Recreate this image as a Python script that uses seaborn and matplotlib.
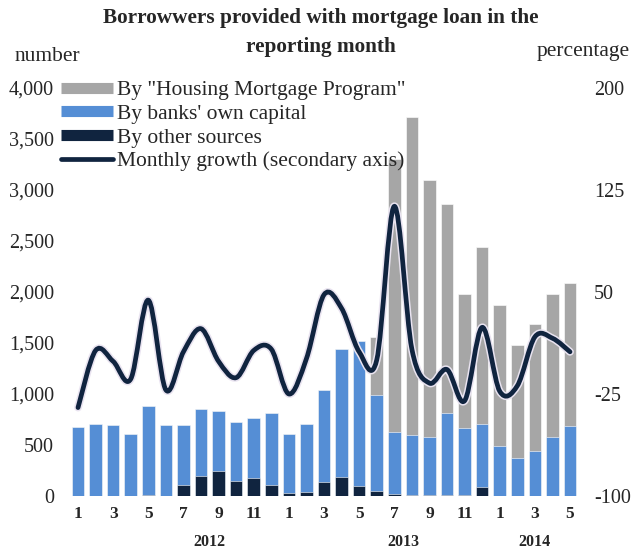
import numpy as np
import pandas as pd
import matplotlib
matplotlib.use("Agg")
import matplotlib.pyplot as plt
import seaborn as sns
from matplotlib.path import Path
from matplotlib.patches import PathPatch
from matplotlib.lines import Line2D
import matplotlib.patheffects as pe

# ---- data ---------------------------------------------------------------
years = [2012] * 12 + [2013] * 12 + [2014] * 5
month_num = list(range(1, 13)) + list(range(1, 13)) + list(range(1, 6))

# borrowers financed by other sources
other_sources = [5, 3, 3, 2, 10, 2, 105, 195, 245, 145, 175, 105,
                 25, 35, 140, 190, 95, 45, 20, 10, 8, 8, 8, 85,
                 0, 0, 0, 0, 0]
# borrowers financed by banks' own capital
banks_capital = [675, 707, 697, 608, 870, 698, 590, 655, 585, 580, 585, 710,
                 585, 675, 895, 1250, 1425, 950, 610, 590, 567, 802, 662, 625,
                 495, 375, 445, 575, 690]
# borrowers financed by the Housing Mortgage Program
housing_program = [0, 0, 0, 0, 0, 0, 0, 0, 0, 0, 0, 0,
                   0, 0, 0, 0, 0, 560, 2670, 3120, 2525, 2050, 1310, 1730,
                   1375, 1105, 1240, 1405, 1400]
# monthly growth of total borrowers, %
monthly_growth = [-35, 7, -1, -14, 44, -22, 6, 23, -1, -13, 7, 8,
                  -25, 1, 48, 38, 6, 0, 113, 8, -17, -7, -30, 24,
                  -23, -19, 17, 16, 6]

left_ticks = [0, 500, 1000, 1500, 2000, 2500, 3000, 3500, 4000]
right_ticks = [-100, -25, 50, 125, 200]

# ---- styling ------------------------------------------------------------
GRAY = "#A6A6A6"
BLUE = "#558ED5"
NAVY = "#10243F"

sns.set_theme(style="white")
plt.rcParams["font.family"] = ["Liberation Serif", "DejaVu Serif"]

df = pd.DataFrame({
    "month": [f"{y}-{m:02d}" for y, m in zip(years, month_num)],
    "other": other_sources,
    "banks": banks_capital,
    "program": housing_program,
})
df["blue_top"] = df["other"] + df["banks"]
df["total"] = df["blue_top"] + df["program"]

fig = plt.figure(figsize=(6.35, 5.51), dpi=100)
ax = fig.add_axes([0.109, 0.0998, 0.8025, 0.7406])

bar_kw = dict(ax=ax, saturation=1, errorbar=None, width=0.72,
              edgecolor="white", linewidth=0.4)
sns.barplot(data=df, x="month", y="total", color=GRAY, **bar_kw)
sns.barplot(data=df, x="month", y="blue_top", color=BLUE, **bar_kw)
sns.barplot(data=df, x="month", y="other", color=NAVY, **bar_kw)

ax.set_xlim(-0.5, len(df) - 0.5)
ax.set_ylim(0, 4000)
ax.set_yticks(left_ticks)
ax.set_yticklabels([f"{v:,}" for v in left_ticks], fontsize=14.5)
ax.set_xlabel("")
ax.set_ylabel("")
idx = np.arange(len(df))
ax.set_xticks(idx[::2])
ax.set_xticklabels([str(m) for m in month_num[::2]], fontsize=12.5,
                   fontweight="bold")
ax.tick_params(axis="both", length=0)
ax.tick_params(axis="y", pad=11)
ax.tick_params(axis="x", pad=7)
for s in ax.spines.values():
    s.set_visible(False)

# year labels under the month labels
for pos, yr in [(7.5, "2012"), (18.5, "2013"), (26.0, "2014")]:
    ax.text(pos, -0.112, yr, transform=ax.get_xaxis_transform(),
            ha="center", va="center", fontsize=11.5, fontweight="bold")

# ---- secondary axis: smoothed growth line -------------------------------
ax2 = ax.twinx()
ax2.set_ylim(-100, 200)
ax2.set_yticks(right_ticks)
ax2.set_yticklabels([str(v) for v in right_ticks], fontsize=14.5)
ax2.tick_params(axis="y", length=0, pad=11)
for s in ax2.spines.values():
    s.set_visible(False)
ax2.grid(False)
ax.grid(False)

g = np.asarray(monthly_growth, dtype=float)
x = idx.astype(float)
verts = [(x[0], g[0])]
codes = [Path.MOVETO]
for i in range(len(x) - 1):
    p0 = np.array([x[max(i - 1, 0)], g[max(i - 1, 0)]])
    p1 = np.array([x[i], g[i]])
    p2 = np.array([x[i + 1], g[i + 1]])
    p3 = np.array([x[min(i + 2, len(x) - 1)], g[min(i + 2, len(x) - 1)]])
    c1 = p1 + (p2 - p0) / 6.0
    c2 = p2 - (p3 - p1) / 6.0
    verts += [tuple(c1), tuple(c2), tuple(p2)]
    codes += [Path.CURVE4] * 3
curve = PathPatch(Path(verts, codes), facecolor="none", edgecolor=NAVY,
                  linewidth=3.4, capstyle="round", joinstyle="round",
                  path_effects=[pe.Stroke(linewidth=5.6, foreground="#E9E3F0"),
                                pe.Normal()])
ax2.add_patch(curve)

# ---- legend --------------------------------------------------------------
handles = [
    Line2D([], [], color=GRAY, lw=8, solid_capstyle="butt"),
    Line2D([], [], color=BLUE, lw=8, solid_capstyle="butt"),
    Line2D([], [], color=NAVY, lw=8, solid_capstyle="butt"),
    Line2D([], [], color=NAVY, lw=3.4, solid_capstyle="round"),
]
labels = ['By "Housing Mortgage Program"', "By banks' own capital",
          "By other sources", "Monthly growth (secondary axis)"]
ax2.legend(handles, labels, loc="upper left", bbox_to_anchor=(-0.033, 1.04),
           frameon=False, fontsize=15.5, handlelength=2.4, handletextpad=0.22,
           labelspacing=0.17, borderaxespad=0)

# ---- titles ---------------------------------------------------------------
fig.text(0.505, 0.941, "Borrowwers provided with mortgage loan in the\nreporting month",
         ha="center", va="center", fontsize=15.3, fontweight="bold",
         linespacing=1.55)
fig.text(0.075, 0.898, "number", ha="center", va="center", fontsize=15.5)
fig.text(0.919, 0.907, "percentage", ha="center", va="center", fontsize=15.5)

fig.savefig("out.png", dpi=100)
